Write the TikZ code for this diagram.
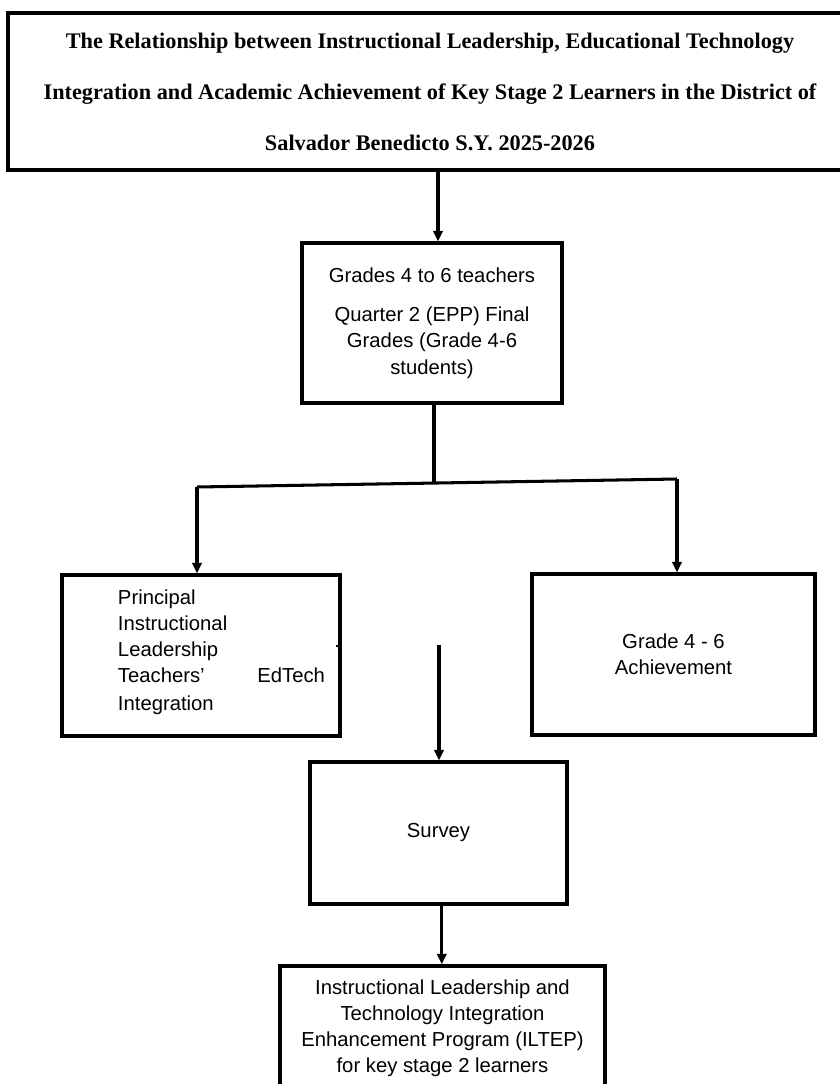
\documentclass[tikz,border=0pt]{standalone}
\usepackage{fontspec}
\setmainfont{Liberation Sans}
\newfontfamily\titlefont{Liberation Serif}
\usetikzlibrary{arrows.meta}

\begin{document}
\begin{tikzpicture}[x=0.03cm, y=-0.03cm,
    box/.style={draw, line width=2.8pt, inner sep=0pt},
    link/.style={line width=2.6pt},
    arr/.style={line width=2.6pt, -{Triangle[length=9pt,width=8pt]}},
    txt/.style={font=\fontsize{17.3}{22.2}\selectfont}]
  \useasboundingbox (0,0) rectangle (840,1084);

  % title
  \node [box, line width=3.3pt, minimum width=25.32cm, minimum height=4.71cm, align=center,
         font=\titlefont\bfseries\fontsize{19}{43.5}\selectfont] (title) at (430,91.5)
    {The Relationship between Instructional Leadership, Educational Technology\\
     Integration and Academic Achievement of Key Stage 2 Learners in the District of\\
     Salvador Benedicto S.Y. 2025-2026};

  % respondents
  \node [box, txt, minimum width=7.8cm, minimum height=4.8cm, align=center] (resp) at (432,323)
    {Grades 4 to 6 teachers\\[11.5pt]
     Quarter 2 (EPP) Final\\Grades (Grade 4-6\\students)};

  % variables
  \node [box, minimum width=8.34cm, minimum height=4.83cm] (lbox) at (201,655.5) {};
  \node [txt, text width=6.21cm, align=left, inner sep=0pt] (ltxt) at (221.5,652)
    {Principal\\Instructional\\Leadership\\Teachers'\hfill EdTech\\[2pt]Integration};
  \node [box, txt, minimum width=8.49cm, minimum height=4.83cm, align=center] (rbox) at (673.5,654.5)
    {Grade 4 - 6\\Achievement};

  % survey and output
  \node [box, txt, minimum width=7.71cm, minimum height=4.26cm] (survey) at (438.5,833) {Survey};
  \node [box, minimum width=9.75cm, minimum height=4.32cm] (iltep) at (442.5,1038) {};
  \node [txt, align=center, inner sep=0pt] (iltxt) at (442.5,1028.5)
    {Instructional Leadership and\\Technology Integration\\Enhancement Program (ILTEP)\\for key stage 2 learners};

  \coordinate (split) at (434,483);
  \coordinate (jl) at (197,487);
  \coordinate (jr) at (677,479);
  \coordinate (gap) at (439,645);
  \coordinate (tick) at (336,646);

  \draw [arr] ([xshift=0.18cm]title.south -| resp.north) -- ([xshift=0.18cm]resp.north);
  \draw [link] (split |- resp.south) -- (split);
  \draw [link] (jl) -- (jr);
  \draw [arr] (jl) -- (jl |- lbox.north);
  \draw [arr] (jr) -- (jr |- rbox.north);
  \draw [arr] (gap) -- (gap |- survey.north);
  \draw [arr] ([xshift=0.1cm]survey.south) -- ([xshift=0.1cm]survey.south |- iltep.north);
  \draw [line width=1.5pt] (tick) -- (tick -| lbox.east);
\end{tikzpicture}
\end{document}
